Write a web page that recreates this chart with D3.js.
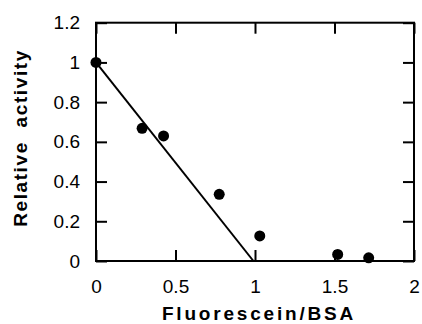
<!DOCTYPE html>
<html><head><meta charset="utf-8">
<script src="https://cdn.jsdelivr.net/npm/d3@7"></script>
<style>body{margin:0;background:#fff}svg{display:block}</style>
</head><body>
<svg id="c" width="422" height="324"></svg>
<script>
const xTicks = [0, 0.5, 1, 1.5, 2];
const yTicks = [0, 0.2, 0.4, 0.6, 0.8, 1, 1.2];
const ratio = [0, 0.29, 0.425, 0.775, 1.03, 1.52, 1.715];
const activity = [1.0, 0.668, 0.63, 0.336, 0.126, 0.033, 0.016];
const fitX = [0, 0.99];
const fitY = [1.0, 0];
const xTitle = "Fluorescein/BSA";
const yTitle = "Relative  activity";

const svg = d3.select("#c");
const L = 96, R = 414, T = 22.7, B = 261;
const x = d3.scaleLinear().domain([0, 2]).range([L, R]);
const y = d3.scaleLinear().domain([0, 1.2]).range([B, T]);
const font = "Arial, 'Liberation Sans', Helvetica, sans-serif";
const tl = 11;

const g = svg.append("g");
g.append("rect").attr("x", L).attr("y", T).attr("width", R - L).attr("height", B - T)
  .attr("fill", "none").attr("stroke", "#000").attr("stroke-width", 2);

const fmt = d => String(d);
g.append("g").attr("transform", `translate(0,${B})`)
  .call(d3.axisBottom(x).tickValues(xTicks).tickSize(-tl).tickPadding(tl + 8).tickFormat(fmt))
  .call(a => a.select(".domain").remove())
  .call(a => a.selectAll("line").attr("stroke-width", 2))
  .call(a => a.selectAll("text").attr("font-size", 19).attr("font-family", font).attr("fill", "#000"));
g.append("g").attr("transform", `translate(0,${T})`)
  .call(d3.axisTop(x).tickValues(xTicks).tickSize(-tl).tickFormat(""))
  .call(a => a.select(".domain").remove())
  .call(a => a.selectAll("line").attr("stroke-width", 2));
g.append("g").attr("transform", `translate(${L},0)`)
  .call(d3.axisLeft(y).tickValues(yTicks).tickSize(-tl).tickPadding(tl + 5).tickFormat(fmt))
  .call(a => a.select(".domain").remove())
  .call(a => a.selectAll("line").attr("stroke-width", 2))
  .call(a => a.selectAll("text").attr("font-size", 19).attr("font-family", font).attr("fill", "#000"));
g.append("g").attr("transform", `translate(${R},0)`)
  .call(d3.axisRight(y).tickValues(yTicks).tickSize(-tl).tickFormat(""))
  .call(a => a.select(".domain").remove())
  .call(a => a.selectAll("line").attr("stroke-width", 2));

const line = d3.line().x(d => x(d[0])).y(d => y(d[1]));
g.append("path").datum(fitX.map((v, i) => [v, fitY[i]]))
  .attr("d", line).attr("fill", "none").attr("stroke", "#000").attr("stroke-width", 2);

g.selectAll("circle.pt").data(ratio.map((v, i) => [v, activity[i]])).enter()
  .append("circle").attr("class", "pt")
  .attr("cx", d => x(d[0])).attr("cy", d => y(d[1])).attr("r", 5.5).attr("fill", "#000");

svg.append("text").attr("x", 259).attr("y", 320)
  .attr("text-anchor", "middle").attr("font-family", font).attr("font-weight", "bold")
  .attr("font-size", 19).attr("letter-spacing", 2.8).text(xTitle);
svg.append("text").attr("transform", `translate(27,${138}) rotate(-90)`)
  .attr("text-anchor", "middle").attr("font-family", font).attr("font-weight", "bold")
  .attr("font-size", 19).attr("letter-spacing", 1.6).style("white-space", "pre").text(yTitle);
</script>
</body></html>
